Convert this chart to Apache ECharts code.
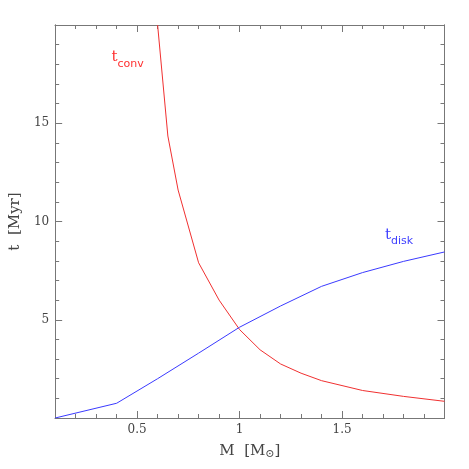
<!DOCTYPE html>
<html>
<head>
<meta charset="utf-8">
<script src="https://cdn.jsdelivr.net/npm/echarts@6/dist/echarts.min.js"></script>
<style>html,body{margin:0;padding:0;background:#fff}#c{width:469px;height:469px}</style>
</head>
<body>
<div id="c"></div>
<script>
// ---- data ----
const massDisk = [0.1, 0.4, 0.6, 0.8, 1.0, 1.2, 1.4, 1.6, 1.8, 2.0];
const tDisk    = [0.0, 0.75, 2.0, 3.3, 4.62, 5.7, 6.7, 7.4, 7.97, 8.45];
const massConv = [0.6, 0.65, 0.7, 0.8, 0.9, 1.0, 1.1, 1.2, 1.3, 1.4, 1.6, 1.8, 2.0];
const tConv    = [20.0, 14.35, 11.6, 7.9, 6.0, 4.5, 3.47, 2.75, 2.28, 1.9, 1.4, 1.1, 0.85];
const xTickLabels = [0.5, 1, 1.5];
const yTickLabels = [5, 10, 15];
const xMinorTicks = [0.2,0.3,0.4,0.6,0.7,0.8,0.9,1.1,1.2,1.3,1.4,1.6,1.7,1.8,1.9];
const yMinorTicks = [1,2,3,4,6,7,8,9,11,12,13,14,16,17,18,19];

const FONT = '"DejaVu Serif", "Liberation Serif", serif';
const AXC = '#777';
const chart = echarts.init(document.getElementById('c'), null, {renderer: 'canvas'});

function xAx(pos, ticks, len, labels, name) {
  return {
    type: 'value', position: pos, min: 0.1, max: 2.0,
    axisLine: {show: true, onZero: false, lineStyle: {color: AXC, width: 1}},
    splitLine: {show: false},
    axisTick: {show: true, inside: true, length: len, customValues: ticks, lineStyle: {color: AXC}},
    axisLabel: labels ? {show: true, customValues: xTickLabels, margin: 6, color: '#444', fontFamily: FONT, fontSize: 12,
      formatter: v => String(v)} : {show: false},
    name: name || '', nameLocation: 'middle', nameGap: 24,
    nameTextStyle: {fontFamily: FONT, fontSize: 15, color: '#444',
      rich: {s: {fontFamily: FONT, fontSize: 11, color: '#444', padding: [7, 0, 0, 0]}}}
  };
}
function yAx(pos, ticks, len, labels, name) {
  return {
    type: 'value', position: pos, min: 0, max: 20,
    axisLine: {show: true, onZero: false, lineStyle: {color: AXC, width: 1}},
    splitLine: {show: false},
    axisTick: {show: true, inside: true, length: len, customValues: ticks, lineStyle: {color: AXC}},
    axisLabel: labels ? {show: true, customValues: yTickLabels, margin: 6, color: '#444', fontFamily: FONT, fontSize: 12,
      formatter: v => String(v)} : {show: false},
    name: name || '', nameLocation: 'middle', nameGap: 26, nameRotate: 90,
    nameTextStyle: {fontFamily: FONT, fontSize: 15, color: '#444'}
  };
}

chart.setOption({
  animation: false,
  backgroundColor: '#fff',
  grid: {left: 50.5, right: 24.5, top: 25, bottom: 51, containLabel: false},
  xAxis: [
    xAx('bottom', xTickLabels, 7, true, 'M  [M{s|⊙}]'),
    xAx('bottom', xMinorTicks, 4, false),
    xAx('top', xTickLabels, 7, false),
    xAx('top', xMinorTicks, 4, false)
  ],
  yAxis: [
    yAx('left', yTickLabels, 7, true, 't  [Myr]'),
    yAx('left', yMinorTicks, 4, false),
    yAx('right', yTickLabels, 7, false),
    yAx('right', yMinorTicks, 4, false)
  ],
  series: [
    {type: 'line', name: 'tconv', xAxisIndex: 0, yAxisIndex: 0, showSymbol: false, clip: true,
      data: massConv.map((m, i) => [m, tConv[i]]), lineStyle: {color: '#f03030', width: 1}},
    {type: 'line', name: 'tdisk', xAxisIndex: 0, yAxisIndex: 0, showSymbol: false, clip: true,
      data: massDisk.map((m, i) => [m, tDisk[i]]), lineStyle: {color: '#3a3aff', width: 1}}
  ]
});

function lbl(main, sub, x, y, color) {
  const p = chart.convertToPixel({xAxisIndex: 0, yAxisIndex: 0}, [x, y]);
  return [
    {type: 'text', x: p[0], y: p[1], style: {text: main, fill: color, font: '15px ' + FONT, textVerticalAlign: 'bottom'}},
    {type: 'text', x: p[0] + 6, y: p[1] + 5, style: {text: sub, fill: color, font: '11px "DejaVu Sans", sans-serif', textVerticalAlign: 'bottom'}}
  ];
}
chart.setOption({
  graphic: [].concat(
    lbl('t', 'conv', 0.375, 18.0, '#ff3030'),
    lbl('t', 'disk', 1.71, 8.95, '#4040ff')
  )
});
</script>
</body>
</html>
